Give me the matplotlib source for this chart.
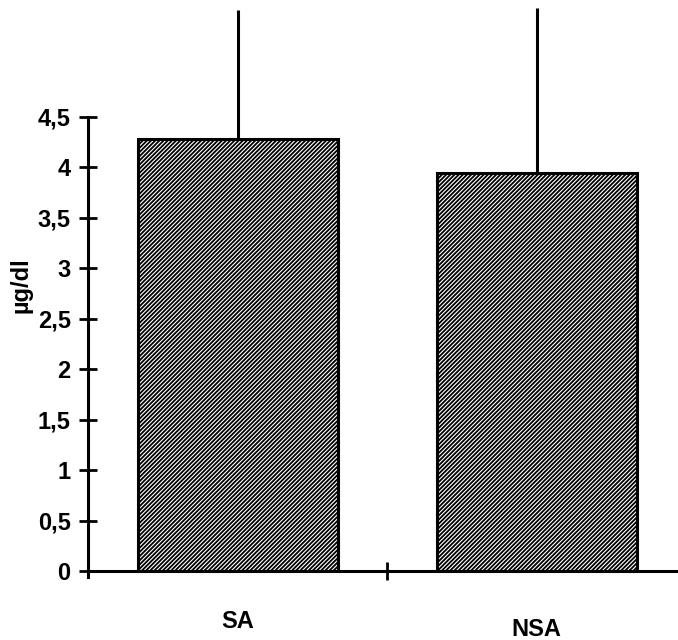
import numpy as np
import matplotlib.pyplot as plt
from matplotlib.ticker import FuncFormatter

plt.rcParams['font.family'] = ['Liberation Sans', 'DejaVu Sans']
plt.rcParams['hatch.linewidth'] = 1.3

# data
groups = ['SA', 'NSA']
means = [4.28, 3.94]
errors = [1.28, 1.64]   # upper error bar only
yticks = [0, 0.5, 1, 1.5, 2, 2.5, 3, 3.5, 4, 4.5]

fig = plt.figure(figsize=(6.78, 6.4), dpi=100)
ax = fig.add_axes([0.1298, 0.1078, 0.8702, 0.8922])

x = np.arange(len(groups))
ax.bar(x, means, width=0.67, facecolor='white', edgecolor='black',
       hatch='////////', linewidth=2.2, zorder=2)
ax.vlines(x, means, np.array(means) + np.array(errors), color='black',
          linewidth=2.2, zorder=1)

ax.set_xlim(-0.5025, 1.474)
ax.set_ylim(0, 5.659)

for side in ['top', 'right']:
    ax.spines[side].set_visible(False)
ax.spines['left'].set_bounds(-0.06, 4.5)
ax.spines['left'].set_linewidth(2.2)
ax.spines['bottom'].set_linewidth(2.2)

ax.set_yticks(yticks)
ax.yaxis.set_major_formatter(FuncFormatter(lambda v, p: ('%g' % v).replace('.', ',')))
ax.tick_params(axis='y', direction='inout', length=13, width=2, pad=6,
               labelsize=17)
for lab in ax.get_yticklabels():
    lab.set_fontweight('bold')

ax.set_xticks([0.5])
ax.set_xticklabels([''])
ax.tick_params(axis='x', direction='inout', length=13, width=2)

ax.set_ylabel('µg/dl', fontsize=17, fontweight='bold', labelpad=4)

fig.text(238 / 678, 1 - 622 / 640, groups[0], ha='center', va='center',
         fontsize=17, fontweight='bold')
fig.text(536 / 678, 1 - 630 / 640, groups[1], ha='center', va='center',
         fontsize=17, fontweight='bold')

fig.savefig('out.png', dpi=100)
